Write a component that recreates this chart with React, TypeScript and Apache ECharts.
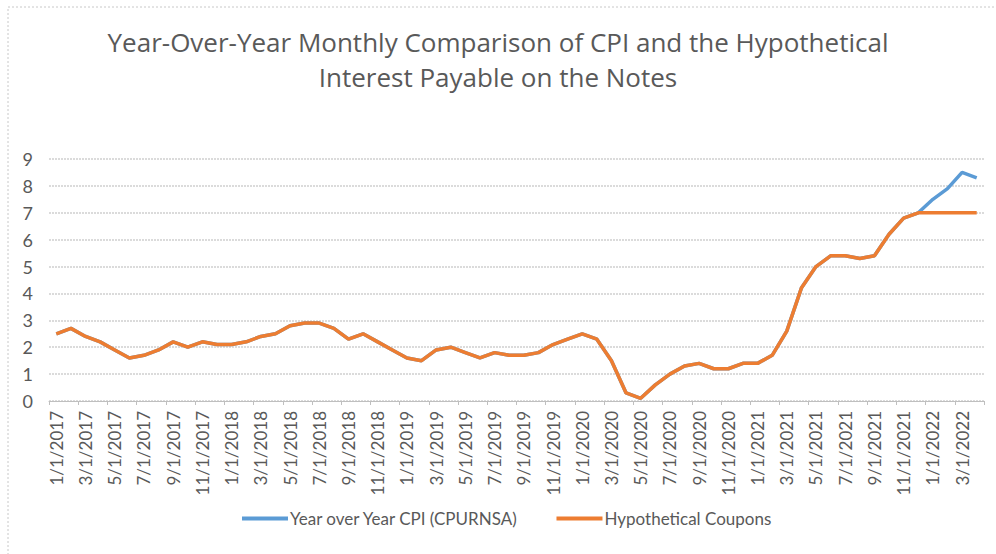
import React, { useEffect, useRef } from "react";
import * as echarts from "echarts";

const months: string[] = (() => {
  const out: string[] = [];
  for (let y = 2017; y <= 2022; y++) {
    for (let m = 1; m <= 12; m++) {
      if (y === 2022 && m > 4) break;
      out.push(`${m}/1/${y}`);
    }
  }
  return out;
})();

const cpi: number[] = [
  2.5, 2.7, 2.4, 2.2, 1.9, 1.6, 1.7, 1.9, 2.2, 2.0, 2.2, 2.1,
  2.1, 2.2, 2.4, 2.5, 2.8, 2.9, 2.9, 2.7, 2.3, 2.5, 2.2, 1.9,
  1.6, 1.5, 1.9, 2.0, 1.8, 1.6, 1.8, 1.7, 1.7, 1.8, 2.1, 2.3,
  2.5, 2.3, 1.5, 0.3, 0.1, 0.6, 1.0, 1.3, 1.4, 1.2, 1.2, 1.4,
  1.4, 1.7, 2.6, 4.2, 5.0, 5.4, 5.4, 5.3, 5.4, 6.2, 6.8, 7.0,
  7.5, 7.9, 8.5, 8.3,
];

const coupons: number[] = [
  2.5, 2.7, 2.4, 2.2, 1.9, 1.6, 1.7, 1.9, 2.2, 2.0, 2.2, 2.1,
  2.1, 2.2, 2.4, 2.5, 2.8, 2.9, 2.9, 2.7, 2.3, 2.5, 2.2, 1.9,
  1.6, 1.5, 1.9, 2.0, 1.8, 1.6, 1.8, 1.7, 1.7, 1.8, 2.1, 2.3,
  2.5, 2.3, 1.5, 0.3, 0.1, 0.6, 1.0, 1.3, 1.4, 1.2, 1.2, 1.4,
  1.4, 1.7, 2.6, 4.2, 5.0, 5.4, 5.4, 5.3, 5.4, 6.2, 6.8, 7.0,
  7.0, 7.0, 7.0, 7.0,
];

const seriesNames = ["Year over Year CPI (CPURNSA)", "Hypothetical Coupons"];
const titleText = "Year-Over-Year Monthly Comparison of CPI and the Hypothetical\nInterest Payable on the Notes";

const FONT = "Lato, 'Liberation Sans', sans-serif";
const TITLE_FONT = "'Open Sans', Lato, sans-serif";

export default function App() {
  const ref = useRef<HTMLDivElement>(null);
  useEffect(() => {
    if (!ref.current) return;
    const chart = echarts.init(ref.current, undefined, { renderer: "svg" });
    chart.setOption({
      animation: false,
      backgroundColor: "#ffffff",
      textStyle: { fontFamily: FONT },
      title: {
        text: titleText,
        left: "center",
        top: 19,
        textStyle: {
          fontFamily: TITLE_FONT,
          fontSize: 26,
          fontWeight: "normal",
          color: "#595959",
          lineHeight: 35,
        },
      },
      graphic: [
        {
          type: "rect",
          shape: { x: 8, y: 7, width: 1000, height: 560 },
          style: { fill: "none", stroke: "#c8c8c8", lineWidth: 1, lineDash: [2, 2] },
          silent: true,
        },
      ],
      legend: {
        bottom: 22,
        left: 237,
        itemWidth: 46,
        itemHeight: 4,
        itemGap: 38,
        icon: "rect",
        textStyle: { fontFamily: FONT, fontSize: 17, color: "#595959", padding: [0, 0, 0, -3] },
        data: seriesNames,
      },
      grid: { left: 49, right: 12, top: 159, bottom: 153, containLabel: false },
      xAxis: {
        type: "category",
        data: months,
        boundaryGap: true,
        axisLine: { show: true, lineStyle: { color: "#bfbfbf", width: 1 } },
        axisTick: { show: true, interval: 1, length: 4, lineStyle: { color: "#bfbfbf" } },
        axisLabel: {
          interval: 1,
          rotate: 90,
          fontFamily: FONT,
          fontSize: 17,
          color: "#595959",
          margin: 10,
        },
      },
      yAxis: {
        type: "value",
        min: 0,
        max: 9,
        interval: 1,
        axisLine: { show: false },
        axisTick: { show: false },
        axisLabel: { fontFamily: FONT, fontSize: 18, color: "#595959", margin: 16 },
        splitLine: { show: true, lineStyle: { color: "#cfcfcf", type: [2, 1], width: 1.5 } },
      },
      series: [
        {
          name: seriesNames[0],
          type: "line",
          data: cpi,
          symbol: "none",
          lineStyle: { color: "#5B9BD5", width: 3.5 },
          itemStyle: { color: "#5B9BD5" },
        },
        {
          name: seriesNames[1],
          type: "line",
          data: coupons,
          symbol: "none",
          lineStyle: { color: "#ED7D31", width: 3.5 },
          itemStyle: { color: "#ED7D31" },
        },
      ],
    });
    return () => chart.dispose();
  }, []);
  return (
    <div
      ref={ref}
      style={{ position: "fixed", left: 0, top: 0, width: 996, height: 554 }}
    />
  );
}
